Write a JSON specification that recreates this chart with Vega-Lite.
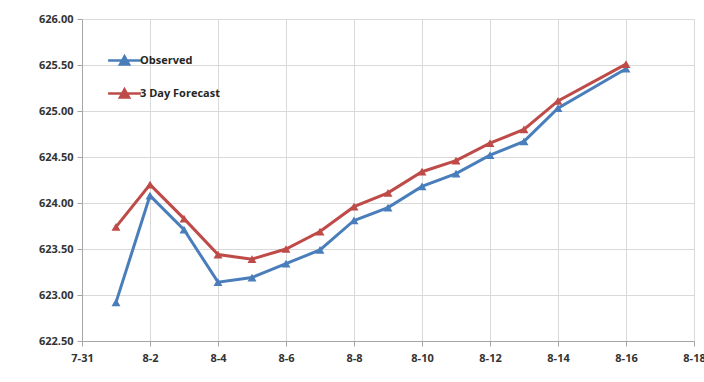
{
  "$schema": "https://vega.github.io/schema/vega-lite/v6.json",
  "width": 612,
  "height": 322,
  "autosize": {"type": "none"},
  "padding": {"left": 82, "top": 19, "right": 10, "bottom": 41},
  "background": "white",
  "config": {
    "view": {"stroke": null},
    "font": "Open Sans",
    "axis": {"labelFont": "Open Sans", "labelFontSize": 11, "labelFontWeight": "bold", "labelColor": "#333333", "gridColor": "#d9d9d9", "domainColor": "#a6a6a6", "tickColor": "#a6a6a6", "tickSize": 5, "title": null}
  },
  "data": {
    "values": [
      {"date": "2012-08-01", "series": "Observed", "elev": 622.92},
      {"date": "2012-08-02", "series": "Observed", "elev": 624.08},
      {"date": "2012-08-03", "series": "Observed", "elev": 623.71},
      {"date": "2012-08-04", "series": "Observed", "elev": 623.14},
      {"date": "2012-08-05", "series": "Observed", "elev": 623.19},
      {"date": "2012-08-06", "series": "Observed", "elev": 623.34},
      {"date": "2012-08-07", "series": "Observed", "elev": 623.49},
      {"date": "2012-08-08", "series": "Observed", "elev": 623.81},
      {"date": "2012-08-09", "series": "Observed", "elev": 623.95},
      {"date": "2012-08-10", "series": "Observed", "elev": 624.18},
      {"date": "2012-08-11", "series": "Observed", "elev": 624.32},
      {"date": "2012-08-12", "series": "Observed", "elev": 624.52},
      {"date": "2012-08-13", "series": "Observed", "elev": 624.67},
      {"date": "2012-08-14", "series": "Observed", "elev": 625.03},
      {"date": "2012-08-16", "series": "Observed", "elev": 625.46},
      {"date": "2012-08-01", "series": "3 Day Forecast", "elev": 623.74},
      {"date": "2012-08-02", "series": "3 Day Forecast", "elev": 624.20},
      {"date": "2012-08-03", "series": "3 Day Forecast", "elev": 623.83},
      {"date": "2012-08-04", "series": "3 Day Forecast", "elev": 623.44},
      {"date": "2012-08-05", "series": "3 Day Forecast", "elev": 623.39},
      {"date": "2012-08-06", "series": "3 Day Forecast", "elev": 623.50},
      {"date": "2012-08-07", "series": "3 Day Forecast", "elev": 623.69},
      {"date": "2012-08-08", "series": "3 Day Forecast", "elev": 623.96},
      {"date": "2012-08-09", "series": "3 Day Forecast", "elev": 624.11},
      {"date": "2012-08-10", "series": "3 Day Forecast", "elev": 624.34},
      {"date": "2012-08-11", "series": "3 Day Forecast", "elev": 624.46},
      {"date": "2012-08-12", "series": "3 Day Forecast", "elev": 624.65},
      {"date": "2012-08-13", "series": "3 Day Forecast", "elev": 624.80},
      {"date": "2012-08-14", "series": "3 Day Forecast", "elev": 625.11},
      {"date": "2012-08-16", "series": "3 Day Forecast", "elev": 625.51}
    ]
  },
  "encoding": {
    "x": {
      "field": "date", "type": "temporal",
      "scale": {"type": "utc", "domain": [{"year": 2012, "month": 7, "date": 31, "utc": true}, {"year": 2012, "month": 8, "date": 18, "utc": true}]},
      "axis": {
        "labelExpr": "utcFormat(datum.value, '%-m-%-d')", "labelPadding": 6, "labelFlush": false,
        "values": [
          {"year": 2012, "month": 7, "date": 31, "utc": true},
          {"year": 2012, "month": 8, "date": 2, "utc": true},
          {"year": 2012, "month": 8, "date": 4, "utc": true},
          {"year": 2012, "month": 8, "date": 6, "utc": true},
          {"year": 2012, "month": 8, "date": 8, "utc": true},
          {"year": 2012, "month": 8, "date": 10, "utc": true},
          {"year": 2012, "month": 8, "date": 12, "utc": true},
          {"year": 2012, "month": 8, "date": 14, "utc": true},
          {"year": 2012, "month": 8, "date": 16, "utc": true},
          {"year": 2012, "month": 8, "date": 18, "utc": true}
        ]
      }
    },
    "y": {
      "field": "elev", "type": "quantitative",
      "scale": {"domain": [622.5, 626], "zero": false, "nice": false},
      "axis": {"values": [622.5, 623, 623.5, 624, 624.5, 625, 625.5, 626], "format": ".2f", "labelPadding": 4}
    },
    "color": {
      "field": "series", "type": "nominal",
      "scale": {"domain": ["Observed", "3 Day Forecast"], "range": ["#4a7ebb", "#be4b48"]},
      "legend": {
        "orient": "none", "legendX": 31, "legendY": 30, "title": null,
        "labelFont": "Open Sans", "labelFontSize": 11, "labelFontWeight": "bold", "labelColor": "#262626",
        "symbolType": "M-1.6,0H1.6M-0.45,0.4L0,-0.4L0.45,0.4Z",
        "symbolSize": 420, "symbolStrokeWidth": 2.5, "rowPadding": 12, "labelOffset": 4
      }
    }
  },
  "layer": [
    {"mark": {"type": "line", "strokeWidth": 3}},
    {"mark": {"type": "point", "shape": "triangle-up", "filled": true, "size": 80, "opacity": 1}}
  ]
}
